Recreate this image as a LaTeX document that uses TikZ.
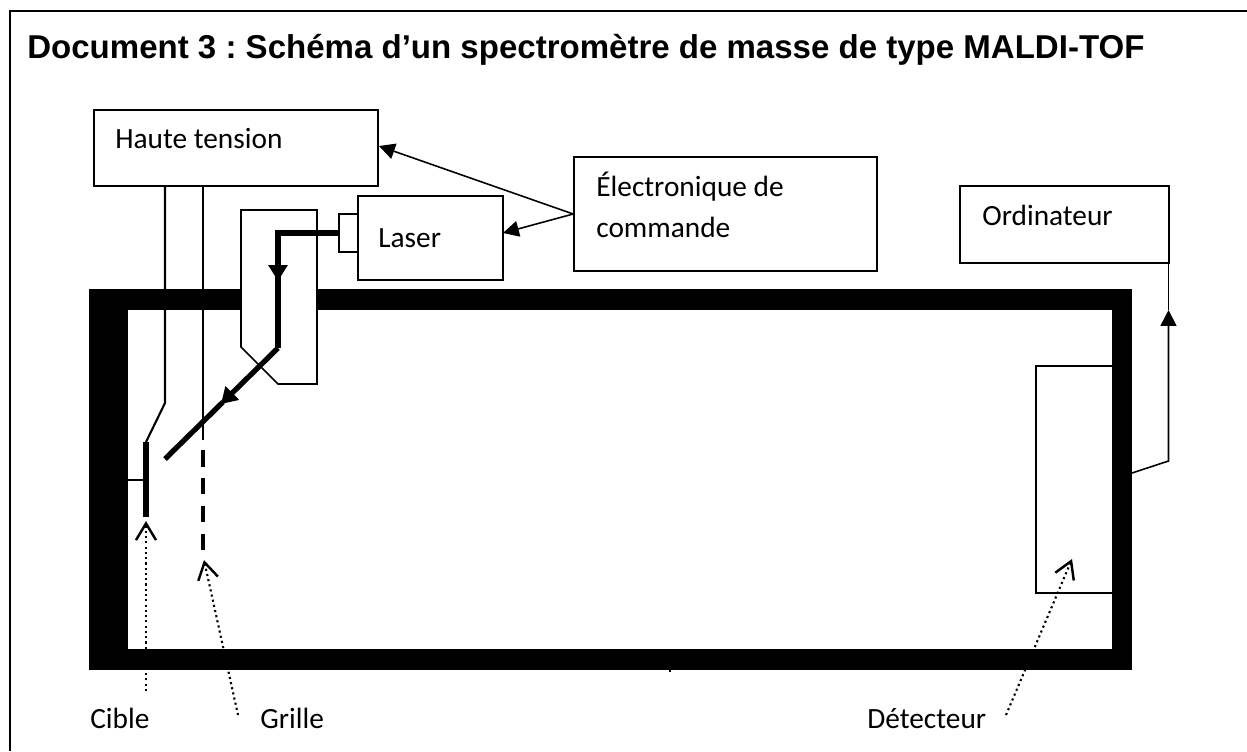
\documentclass[tikz,border=0pt]{standalone}
\usepackage{fontspec}
\setmainfont{Carlito}
\newfontfamily\titlefont{Liberation Sans}
\frenchspacing
\usetikzlibrary{arrows.meta,fit}
\tikzset{
  panel/.style = {draw, line width = 0.9pt, inner sep = 0pt, fit = {#1}},
  thinline/.style = {line width = 0.9pt},
  beam/.style = {line width = 3pt},
  filledtip/.style = {-{Triangle[length = 9pt, width = 9pt]}},
  beamtip/.style = {-{Triangle[length = 9pt, width = 10.5pt]}},
  opentip/.style = {dash pattern = on 1.2pt off 1.8pt, line width = 1.2pt, -{Straight Barb[length = 9.5pt, width = 11.4pt, line width = 1.4pt]}},
  word/.style = {font = \fontsize{16.7}{20}\selectfont, anchor = base west, inner sep = 0pt}
}
\begin{document}
\begin{tikzpicture}[x = 0.02cm, y = -0.02cm]
  \useasboundingbox (0,0) rectangle (1247,751);
  % frame and title
  \draw[line width = 1.3pt] (10,751) -- (10,11) -- (1247,11);
  \node[anchor = base west, inner sep = 0pt, font = \titlefont\bfseries\fontsize{18.8}{24}\selectfont] (title) at (27,58) {Document 3 : Schéma d’un spectromètre de masse de type MALDI-TOF};
  % enclosure
  \fill (88.5,289) rectangle (1132,670);
  \fill[white] (128,310) rectangle (1111.5,649);
  \fill (669,670) rectangle (671,672);
  % boxes
  \node[panel = {(94,110)(378,186)}] (hvbox) {};
  \node[panel = {(358,196)(503,280)}] (laserbox) {};
  \node[panel = {(339,214)(358,252)}] (lensbox) {};
  \node[panel = {(574,157)(877,271)}] (elecbox) {};
  \node[panel = {(960,186)(1169,263)}] (ordbox) {};
  \draw[thinline, fill = white] (241,210) -- (317,210) -- (317,384) -- (278,384) -- (241,347) -- cycle;
  \draw[thinline] (1111.5,366) -- (1036,366) -- (1036,593) -- (1111.5,593);
  % labels
  \node[word] (hv) at (115,148) {Haute tension};
  \node[word] (laser) at (378,247) {Laser};
  \node[word] (elec) at (596,196) {Électronique de};
  \node[word] (cmd) at (596,237) {commande};
  \node[word] (ord) at (982,225) {Ordinateur};
  \node[word] (cible) at (90,728) {Cible};
  \node[word] (grille) at (260,728) {Grille};
  \node[word] (det) at (867,728) {Détecteur};
  % points of the connectors
  \coordinate (hvtip) at (379,146);
  \coordinate (lasertip) at (503,233);
  \coordinate (wireA) at (165,186);
  \coordinate (wireAb) at (165,403);
  \coordinate (targettop) at (146,442);
  \coordinate (targetend) at (146,517);
  \coordinate (targetback) at (146,480);
  \coordinate (wallback) at (128,480);
  \coordinate (wireB) at (203,186);
  \coordinate (wireBend) at (203,440);
  \coordinate (gridtop) at (203,450);
  \coordinate (gridend) at (203,551);
  \coordinate (beamA) at (278,233);
  \coordinate (beamB) at (278,281);
  \coordinate (beamBb) at (278,268);
  \coordinate (beamC) at (278,348);
  \coordinate (beamD) at (221,404);
  \coordinate (beamDb) at (223,402);
  \coordinate (beamE) at (165,459);
  \coordinate (wallout) at (1132,473);
  \coordinate (ordkink) at (1168.5,461);
  \coordinate (ordtip) at (1168.5,310);
  \coordinate (ordfoot) at (1168.5,263);
  % control lines
  \draw[thinline, filledtip] (elecbox.west) -- (hvtip);
  \draw[thinline, filledtip] (elecbox.west) -- (lasertip);
  \draw[thinline, filledtip] (wallout) -- (ordkink) -- (ordtip);
  \draw[thinline] (ordtip) -- (ordfoot);
  \draw[line width = 1.2pt] (wireA) -- (wireAb) -- (targettop);
  \draw[line width = 1.2pt] (wireB) -- (wireBend);
  \draw[thinline] (wallback) -- (targetback);
  % target and grid
  \draw[line width = 3.4pt] (targettop) -- (targetend);
  \draw[line width = 2.3pt, dash pattern = on 9.4pt off 6.5pt] (gridtop) -- (gridend);
  % laser beam
  \draw[beam, beamtip] (lensbox.west) -- (beamA) -- (beamB);
  \draw[line width = 3.4pt] (beamBb) -- (beamC);
  \draw[beam, beamtip] (beamC) -- (beamD);
  \draw[beam] (beamDb) -- (beamE);
  % pointers
  \draw[opentip] (146,691) -- (146,521);
  \draw[opentip] (238,715) -- (204,560);
  \draw[opentip] (1006,715) -- (1072,559);
\end{tikzpicture}
\end{document}
